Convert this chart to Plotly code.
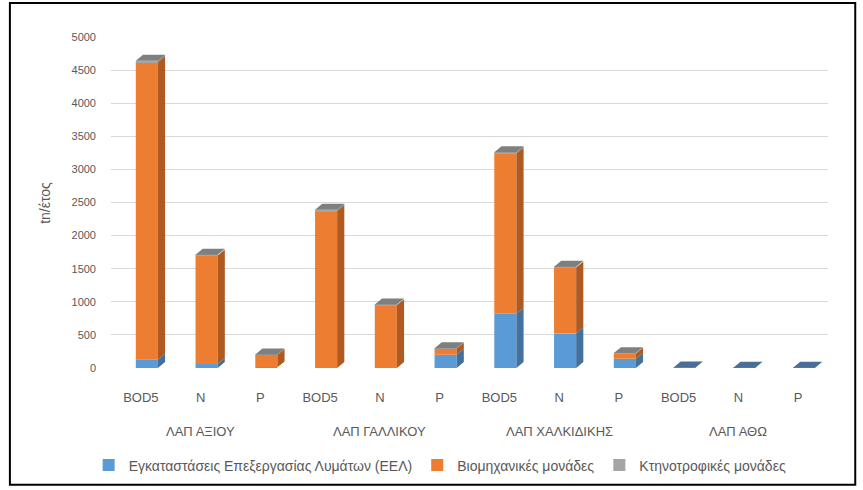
import plotly.graph_objects as go

groups = ["ΛΑΠ ΑΞΙΟΥ", "ΛΑΠ ΓΑΛΛΙΚΟΥ", "ΛΑΠ ΧΑΛΚΙΔΙΚΗΣ", "ΛΑΠ ΑΘΩ"]
params = ["BOD5", "N", "P"]
series_names = ["Εγκαταστάσεις Επεξεργασίας Λυμάτων (ΕΕΛ)",
                "Βιομηχανικές μονάδες",
                "Κτηνοτροφικές μονάδες"]
eel = [130, 60, 10, 0, 0, 200, 820, 520, 140, 8, 5, 4]
ind = [4490, 1640, 190, 2370, 950, 95, 2420, 1000, 80, 0, 0, 0]
liv = [20, 10, 5, 20, 10, 5, 20, 10, 5, 0, 0, 0]
y_ticks = [0, 500, 1000, 1500, 2000, 2500, 3000, 3500, 4000, 4500, 5000]

front_colors = ["#5B9BD5", "#ED7D31", "#A5A5A5"]
side_colors = ["#41719C", "#AE5A21", "#7C7C7C"]
top_colors = {0: "#4A6F96", 1: "#C0651F", 2: "#7F7F7F"}

cat_params = [p for _ in groups for p in params]
cat_groups = [g for g in groups for _ in params]
n = len(cat_params)
xpos = list(range(n))
series = [eel, ind, liv]

bases = []
run = [0] * n
for s in series:
    bases.append(list(run))
    run = [r + v for r, v in zip(run, s)]
totals = run

FRONT_OFF = -0.085
FRONT_W = 0.37
DX = 0.12
DY = 90

fig = go.Figure()
for k, s in enumerate(series):
    fig.add_trace(go.Bar(
        x=xpos, y=s, base=bases[k], name=series_names[k],
        offset=FRONT_OFF, width=FRONT_W,
        marker=dict(color=front_colors[k], line=dict(width=0))))

for k, s in enumerate(series):
    xs, ys = [], []
    for i in range(n):
        if s[i] <= 0:
            continue
        xr = xpos[i] + FRONT_OFF + FRONT_W
        b = bases[k][i]
        t = b + s[i]
        xs += [xr, xr + DX, xr + DX, xr, xr, None]
        ys += [b, b + DY, t + DY, t, b, None]
    fig.add_trace(go.Scatter(x=xs, y=ys, mode="lines", fill="toself",
                             fillcolor=side_colors[k], line=dict(width=0),
                             hoverinfo="skip", showlegend=False))

for k in (0, 1, 2):
    xs, ys = [], []
    for i in range(n):
        top_k = max([j for j in range(3) if series[j][i] > 0] or [0])
        if top_k != k:
            continue
        xl = xpos[i] + FRONT_OFF
        xr = xl + FRONT_W
        T = totals[i]
        xs += [xl, xl + DX, xr + DX, xr, xl, None]
        ys += [T, T + DY, T + DY, T, T, None]
    if xs:
        fig.add_trace(go.Scatter(x=xs, y=ys, mode="lines", fill="toself",
                                 fillcolor=top_colors[k], line=dict(width=0),
                                 hoverinfo="skip", showlegend=False))

annotations = []
for g in groups:
    idx = [i for i in range(n) if cat_groups[i] == g]
    annotations.append(dict(x=sum(idx) / len(idx), xref="x", y=-0.193,
                            yref="paper", text=g, showarrow=False,
                            yanchor="middle",
                            font=dict(size=13, color="#595959")))

FONT = "Liberation Sans"
fig.update_layout(
    width=863, height=490,
    margin=dict(l=111, r=35, t=37, b=122),
    paper_bgcolor="white", plot_bgcolor="white",
    barmode="overlay",
    font=dict(family=FONT, size=12, color="#595959"),
    xaxis=dict(range=[-0.5, n - 0.5], tickvals=xpos, ticktext=cat_params,
               showgrid=False, zeroline=False, showline=False, ticks="",
               ticklabelstandoff=20,
               tickfont=dict(size=13, color="#595959")),
    yaxis=dict(range=[0, 5000], tickvals=y_ticks, tickformat="d",
               showgrid=True, gridcolor="#D9D9D9", gridwidth=1,
               zeroline=False, showline=False, ticks="",
               ticklabelstandoff=14,
               tickfont=dict(size=11, color="#595959")),
    legend=dict(orientation="h", xref="container", yref="container",
                x=0.51, xanchor="center", y=0.05, yanchor="middle",
                font=dict(size=14, color="#595959"), traceorder="normal",
                itemwidth=30),
    annotations=annotations + [dict(
        text="tn/έτος", textangle=-90, xref="paper", yref="paper",
        x=-0.093, y=0.5, xanchor="center", yanchor="middle",
        showarrow=False, font=dict(size=14, color="#595959"))],
    shapes=[dict(type="rect", xref="paper", yref="paper",
                 x0=-0.141, x1=1.038, y0=-0.353, y1=1.103,
                 line=dict(color="black", width=2), fillcolor="rgba(0,0,0,0)",
                 layer="above")],
)

fig.write_html("out.html")
